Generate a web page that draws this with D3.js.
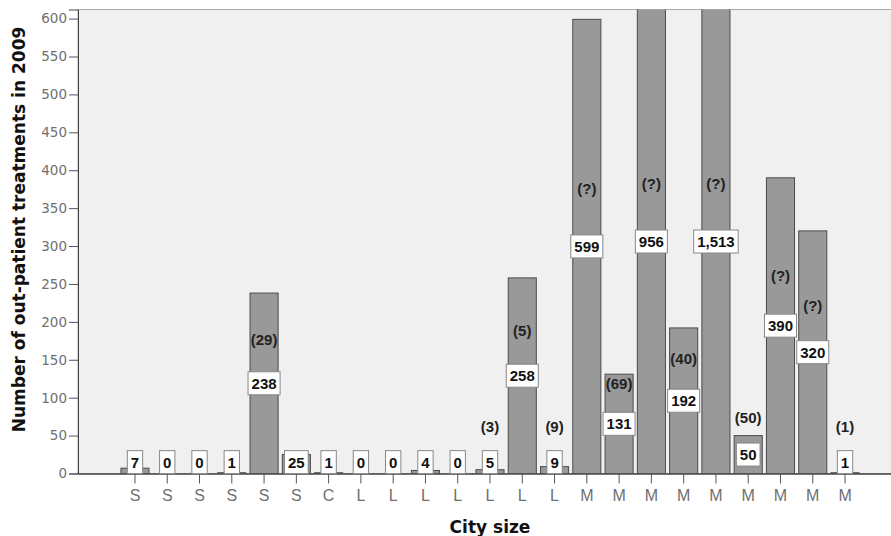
<!DOCTYPE html>
<html>
<head>
<meta charset="utf-8">
<script src="https://cdn.jsdelivr.net/npm/d3@7/dist/d3.min.js"></script>
<style>
  body { margin: 0; background: #fff; }
</style>
</head>
<body>
<div id="chart"></div>
<script>
// city size of each hospital, left to right
const citySizes = ["S", "S", "S", "S", "S", "S", "C", "L", "L", "L", "L", "L", "L", "L",
                   "M", "M", "M", "M", "M", "M", "M", "M", "M"];
// out-patient treatments in 2009
const treatments = [7, 0, 0, 1, 238, 25, 1, 0, 0, 4, 0, 5, 258, 9,
                    599, 131, 956, 192, 1513, 50, 390, 320, 1];
// bracketed notes printed above the bars
const notes = [null, null, null, null, "(29)", null, null, null, null, null, null, "(3)", "(5)", "(9)",
               "(?)", "(69)", "(?)", "(40)", "(?)", "(50)", "(?)", "(?)", "(1)"];
const yTicks = d3.range(0, 601, 50);

const width = 891, height = 536;
const plotLeft = 78, plotTop = 9.5, plotBottom = 473.5, plotRight = 902;
const yMax = 612;

const svg = d3.select("#chart").append("svg")
    .attr("width", width)
    .attr("height", height);

const x = d3.scaleBand()
    .domain(d3.range(treatments.length))
    .range([plotLeft, plotRight])
    .paddingInner(0.13)
    .paddingOuter(1.33);

const y = d3.scaleLinear()
    .domain([0, yMax])
    .range([plotBottom, plotTop]);

// plot background
svg.append("rect")
    .attr("x", plotLeft).attr("y", plotTop)
    .attr("width", plotRight - plotLeft).attr("height", plotBottom - plotTop)
    .attr("fill", "#f0f0f0")
    .attr("stroke", "#aaa");

svg.append("clipPath").attr("id", "plot")
    .append("rect")
    .attr("x", plotLeft).attr("y", plotTop)
    .attr("width", plotRight - plotLeft).attr("height", plotBottom - plotTop);

// bars
svg.append("g")
    .attr("clip-path", "url(#plot)")
    .selectAll("rect")
    .data(treatments)
    .join("rect")
    .attr("x", (d, i) => x(i))
    .attr("width", x.bandwidth())
    .attr("y", d => y(d))
    .attr("height", d => y(0) - y(d))
    .attr("fill", "#999")
    .attr("stroke", "#4a4a4a")
    .attr("stroke-width", 1);

// axes
const yAxis = svg.append("g")
    .attr("transform", `translate(${plotLeft},0)`)
    .call(d3.axisLeft(y).tickValues(yTicks).tickSize(9).tickPadding(2));
yAxis.select(".domain").attr("stroke", "#444");
yAxis.selectAll(".tick line").attr("stroke", "#555");
yAxis.selectAll("text")
    .attr("fill", "#707070")
    .style("font", "13.5px 'DejaVu Sans', sans-serif");

const xAxis = svg.append("g")
    .attr("transform", `translate(0,${plotBottom})`)
    .call(d3.axisBottom(x).tickFormat(i => citySizes[i]).tickSize(10).tickSizeOuter(0).tickPadding(6));
xAxis.select(".domain").attr("stroke", "#444").attr("stroke-width", 1.5);
xAxis.selectAll(".tick line").attr("stroke", "#555");
xAxis.selectAll("text")
    .attr("fill", "#707070")
    .style("font", "16px 'Liberation Sans', Arial, sans-serif");

// value labels in white boxes
const fmt = d3.format(",");
const mid = d => Math.max(Math.min(d, yMax) / 2, 15);

const labels = svg.append("g")
    .selectAll("g")
    .data(treatments)
    .join("g")
    .attr("transform", (d, i) => `translate(${x(i) + x.bandwidth() / 2},${y(mid(d))})`);

labels.append("text")
    .attr("text-anchor", "middle")
    .attr("dy", "0.36em")
    .attr("fill", "#111")
    .style("font", "bold 15px 'Liberation Sans', Arial, sans-serif")
    .text(d => fmt(d));

labels.each(function () {
    const g = d3.select(this);
    const w = g.select("text").node().getComputedTextLength();
    g.insert("rect", "text")
        .attr("x", -w / 2 - 3.5)
        .attr("y", -11.5)
        .attr("width", w + 7)
        .attr("height", 23)
        .attr("fill", "#fff")
        .attr("stroke", "#888");
});

// bracketed notes
svg.append("g")
    .selectAll("text")
    .data(treatments.map((d, i) => ({ d, i, note: notes[i] })).filter(o => o.note))
    .join("text")
    .attr("x", o => x(o.i) + x.bandwidth() / 2)
    .attr("y", o => y(1.1 * mid(o.d) + 46))
    .attr("dy", "0.36em")
    .attr("text-anchor", "middle")
    .attr("fill", "#222")
    .style("font", "bold 15px 'Liberation Sans', Arial, sans-serif")
    .text(o => o.note);

// axis titles
svg.append("text")
    .attr("transform", `translate(25,${(plotTop + plotBottom) / 2 - 12}) rotate(-90)`)
    .attr("text-anchor", "middle")
    .attr("fill", "#111")
    .style("font", "bold 17px 'DejaVu Sans', sans-serif")
    .text("Number of out-patient treatments in 2009");

svg.append("text")
    .attr("x", 490)
    .attr("y", 533)
    .attr("text-anchor", "middle")
    .attr("fill", "#111")
    .style("font", "bold 17px 'DejaVu Sans', sans-serif")
    .text("City size");
</script>
</body>
</html>
